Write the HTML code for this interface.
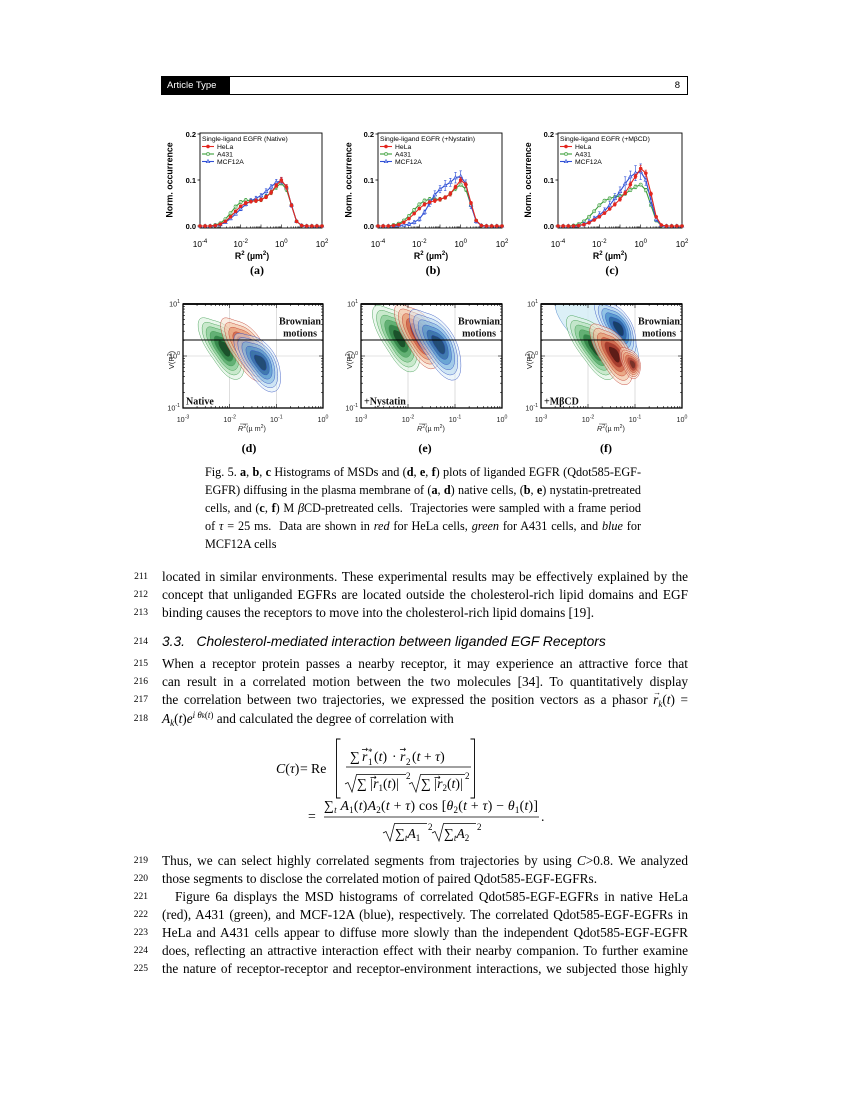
<!DOCTYPE html>
<html><head><meta charset="utf-8">
<style>
html,body{margin:0;padding:0;background:#fff;}
body{width:850px;height:1100px;position:relative;overflow:hidden;font-family:"Liberation Serif","DejaVu Serif",serif;color:#000;}
.ln{position:absolute;left:118px;width:30px;text-align:right;font-size:9.5px;line-height:18px;font-family:"Liberation Serif",serif;}
.tl{position:absolute;left:162px;width:526px;font-size:13.3px;line-height:18px;white-space:nowrap;text-align:justify;text-align-last:justify;}
.tl.last{text-align-last:left;}
.cap{position:absolute;left:205px;width:436px;font-size:12.2px;line-height:18px;white-space:nowrap;text-align:justify;text-align-last:justify;}
.cap.last{text-align-last:left;}
.sb{font-size:9px;position:relative;top:3px;}
.sp{font-size:9px;position:relative;top:-5px;}
.vec{position:relative;}
.vec:after{content:"\2192";position:absolute;left:0px;top:-8px;font-size:8px;font-style:normal;}
.hd{position:absolute;left:162px;top:633px;font-family:"Liberation Sans",sans-serif;font-style:italic;font-size:13.8px;line-height:18px;white-space:nowrap;}
</style></head>
<body>

<!-- header -->
<div style="position:absolute;left:161px;top:76px;width:525px;height:17px;border:1px solid #000;"></div>
<div style="position:absolute;left:161px;top:76px;width:69px;height:19px;background:#000;color:#fff;font-family:'Liberation Sans',sans-serif;font-size:9.5px;line-height:19px;padding-left:6px;box-sizing:border-box;">Article Type</div>
<div style="position:absolute;left:656px;top:76px;width:24px;text-align:right;font-family:'Liberation Sans',sans-serif;font-size:9.5px;line-height:19px;">8</div>

<svg id="fig" width="850" height="1100" style="position:absolute;left:0;top:0;" xmlns="http://www.w3.org/2000/svg">
<defs id="defs"></defs>
<g id="shapes"></g>

<!-- Histogram panel texts -->
<g font-family="'Liberation Sans',sans-serif" fill="#000">
 <!-- (a) -->
 <text x="196" y="136.8" font-size="7.5" font-weight="bold" text-anchor="end">0.2</text>
 <text x="196" y="182.8" font-size="7.5" font-weight="bold" text-anchor="end">0.1</text>
 <text x="196" y="228.8" font-size="7.5" font-weight="bold" text-anchor="end">0.0</text>
 <text x="200" y="247" font-size="8.3" text-anchor="middle">10<tspan dy="-4" font-size="6">-4</tspan></text>
 <text x="240.7" y="247" font-size="8.3" text-anchor="middle">10<tspan dy="-4" font-size="6">-2</tspan></text>
 <text x="281.3" y="247" font-size="8.3" text-anchor="middle">10<tspan dy="-4" font-size="6">0</tspan></text>
 <text x="322" y="247" font-size="8.3" text-anchor="middle">10<tspan dy="-4" font-size="6">2</tspan></text>
 <text x="252" y="259" font-size="8.8" font-weight="bold" text-anchor="middle">R<tspan dy="-4" font-size="6">2</tspan><tspan dy="4"> (µm</tspan><tspan dy="-4" font-size="6">2</tspan><tspan dy="4">)</tspan></text>
 <text transform="translate(172.5,180) rotate(-90)" font-size="8.8" font-weight="bold" text-anchor="middle">Norm. occurrence</text>
 <text x="202" y="141" font-size="6.8">Single-ligand EGFR (Native)</text>
 <text x="217" y="149" font-size="6.8">HeLa</text>
 <text x="217" y="156.5" font-size="6.8">A431</text>
 <text x="217" y="164" font-size="6.8">MCF12A</text>
 <!-- (b) -->
 <text x="374" y="136.8" font-size="7.5" font-weight="bold" text-anchor="end">0.2</text>
 <text x="374" y="182.8" font-size="7.5" font-weight="bold" text-anchor="end">0.1</text>
 <text x="374" y="228.8" font-size="7.5" font-weight="bold" text-anchor="end">0.0</text>
 <text x="378" y="247" font-size="8.3" text-anchor="middle">10<tspan dy="-4" font-size="6">-4</tspan></text>
 <text x="419.3" y="247" font-size="8.3" text-anchor="middle">10<tspan dy="-4" font-size="6">-2</tspan></text>
 <text x="460.7" y="247" font-size="8.3" text-anchor="middle">10<tspan dy="-4" font-size="6">0</tspan></text>
 <text x="502" y="247" font-size="8.3" text-anchor="middle">10<tspan dy="-4" font-size="6">2</tspan></text>
 <text x="431" y="259" font-size="8.8" font-weight="bold" text-anchor="middle">R<tspan dy="-4" font-size="6">2</tspan><tspan dy="4"> (µm</tspan><tspan dy="-4" font-size="6">2</tspan><tspan dy="4">)</tspan></text>
 <text transform="translate(351.5,180) rotate(-90)" font-size="8.8" font-weight="bold" text-anchor="middle">Norm. occurrence</text>
 <text x="380" y="141" font-size="6.8">Single-ligand EGFR (+Nystatin)</text>
 <text x="395" y="149" font-size="6.8">HeLa</text>
 <text x="395" y="156.5" font-size="6.8">A431</text>
 <text x="395" y="164" font-size="6.8">MCF12A</text>
 <!-- (c) -->
 <text x="554" y="136.8" font-size="7.5" font-weight="bold" text-anchor="end">0.2</text>
 <text x="554" y="182.8" font-size="7.5" font-weight="bold" text-anchor="end">0.1</text>
 <text x="554" y="228.8" font-size="7.5" font-weight="bold" text-anchor="end">0.0</text>
 <text x="558" y="247" font-size="8.3" text-anchor="middle">10<tspan dy="-4" font-size="6">-4</tspan></text>
 <text x="599.3" y="247" font-size="8.3" text-anchor="middle">10<tspan dy="-4" font-size="6">-2</tspan></text>
 <text x="640.7" y="247" font-size="8.3" text-anchor="middle">10<tspan dy="-4" font-size="6">0</tspan></text>
 <text x="682" y="247" font-size="8.3" text-anchor="middle">10<tspan dy="-4" font-size="6">2</tspan></text>
 <text x="610" y="259" font-size="8.8" font-weight="bold" text-anchor="middle">R<tspan dy="-4" font-size="6">2</tspan><tspan dy="4"> (µm</tspan><tspan dy="-4" font-size="6">2</tspan><tspan dy="4">)</tspan></text>
 <text transform="translate(531,180) rotate(-90)" font-size="8.8" font-weight="bold" text-anchor="middle">Norm. occurrence</text>
 <text x="560" y="141" font-size="6.8">Single-ligand EGFR (+MβCD)</text>
 <text x="575" y="149" font-size="6.8">HeLa</text>
 <text x="575" y="156.5" font-size="6.8">A431</text>
 <text x="575" y="164" font-size="6.8">MCF12A</text>
</g>
<g font-family="'Liberation Serif',serif" font-weight="bold" font-size="12" text-anchor="middle">
 <text x="257" y="274">(a)</text>
 <text x="433" y="274">(b)</text>
 <text x="612" y="274">(c)</text>
 <text x="249" y="452">(d)</text>
 <text x="425" y="452">(e)</text>
 <text x="606" y="452">(f)</text>
</g>

<!-- Density panel texts -->
<g font-family="'Liberation Sans',sans-serif" fill="#222" font-size="7.2">
 <!-- (d) -->
 <text x="180" y="306.5" text-anchor="end">10<tspan dy="-3.5" font-size="5.2">1</tspan></text>
 <text x="180" y="358.5" text-anchor="end">10<tspan dy="-3.5" font-size="5.2">0</tspan></text>
 <text x="180" y="410.5" text-anchor="end">10<tspan dy="-3.5" font-size="5.2">-1</tspan></text>
 <text x="183" y="422" text-anchor="middle">10<tspan dy="-3.5" font-size="5.2">-3</tspan></text>
 <text x="229.7" y="422" text-anchor="middle">10<tspan dy="-3.5" font-size="5.2">-2</tspan></text>
 <text x="276.3" y="422" text-anchor="middle">10<tspan dy="-3.5" font-size="5.2">-1</tspan></text>
 <text x="323" y="422" text-anchor="middle">10<tspan dy="-3.5" font-size="5.2">0</tspan></text>
 <text x="252" y="431" text-anchor="middle"><tspan font-style="italic">R</tspan><tspan dy="-3" font-size="5.2">2</tspan><tspan dy="3">(µ m</tspan><tspan dy="-3" font-size="5.2">2</tspan><tspan dy="3">)</tspan></text>
 <text transform="translate(174,360) rotate(-90)" text-anchor="middle" font-size="7.5">V(R<tspan dy="-3" font-size="5.2">2</tspan><tspan dy="3">)</tspan></text>
 <!-- (e) -->
 <text x="358" y="306.5" text-anchor="end">10<tspan dy="-3.5" font-size="5.2">1</tspan></text>
 <text x="358" y="358.5" text-anchor="end">10<tspan dy="-3.5" font-size="5.2">0</tspan></text>
 <text x="358" y="410.5" text-anchor="end">10<tspan dy="-3.5" font-size="5.2">-1</tspan></text>
 <text x="361" y="422" text-anchor="middle">10<tspan dy="-3.5" font-size="5.2">-3</tspan></text>
 <text x="408" y="422" text-anchor="middle">10<tspan dy="-3.5" font-size="5.2">-2</tspan></text>
 <text x="455" y="422" text-anchor="middle">10<tspan dy="-3.5" font-size="5.2">-1</tspan></text>
 <text x="502" y="422" text-anchor="middle">10<tspan dy="-3.5" font-size="5.2">0</tspan></text>
 <text x="431" y="431" text-anchor="middle"><tspan font-style="italic">R</tspan><tspan dy="-3" font-size="5.2">2</tspan><tspan dy="3">(µ m</tspan><tspan dy="-3" font-size="5.2">2</tspan><tspan dy="3">)</tspan></text>
 <text transform="translate(352,360) rotate(-90)" text-anchor="middle" font-size="7.5">V(R<tspan dy="-3" font-size="5.2">2</tspan><tspan dy="3">)</tspan></text>
 <!-- (f) -->
 <text x="538" y="306.5" text-anchor="end">10<tspan dy="-3.5" font-size="5.2">1</tspan></text>
 <text x="538" y="358.5" text-anchor="end">10<tspan dy="-3.5" font-size="5.2">0</tspan></text>
 <text x="538" y="410.5" text-anchor="end">10<tspan dy="-3.5" font-size="5.2">-1</tspan></text>
 <text x="541" y="422" text-anchor="middle">10<tspan dy="-3.5" font-size="5.2">-3</tspan></text>
 <text x="588" y="422" text-anchor="middle">10<tspan dy="-3.5" font-size="5.2">-2</tspan></text>
 <text x="635" y="422" text-anchor="middle">10<tspan dy="-3.5" font-size="5.2">-1</tspan></text>
 <text x="682" y="422" text-anchor="middle">10<tspan dy="-3.5" font-size="5.2">0</tspan></text>
 <text x="611" y="431" text-anchor="middle"><tspan font-style="italic">R</tspan><tspan dy="-3" font-size="5.2">2</tspan><tspan dy="3">(µ m</tspan><tspan dy="-3" font-size="5.2">2</tspan><tspan dy="3">)</tspan></text>
 <text transform="translate(532,360) rotate(-90)" text-anchor="middle" font-size="7.5">V(R<tspan dy="-3" font-size="5.2">2</tspan><tspan dy="3">)</tspan></text>
</g>
<g stroke="#222" stroke-width="0.5">
 <line x1="240" y1="424" x2="248" y2="424"/>
 <line x1="419" y1="424" x2="427" y2="424"/>
 <line x1="599" y1="424" x2="607" y2="424"/>
</g>
<g font-family="'Liberation Serif',serif" font-weight="bold" font-size="10" fill="#111">
 <text x="321" y="324.5" text-anchor="end">Brownian</text>
 <text x="317" y="336.5" text-anchor="end">motions</text>
 <text x="186" y="404.5">Native</text>
 <text x="500" y="324.5" text-anchor="end">Brownian</text>
 <text x="496" y="336.5" text-anchor="end">motions</text>
 <text x="364" y="404.5">+Nystatin</text>
 <text x="680" y="324.5" text-anchor="end">Brownian</text>
 <text x="676" y="336.5" text-anchor="end">motions</text>
 <text x="544" y="404.5">+MβCD</text>
</g>

<!-- Equation -->
<g font-family="'Liberation Serif','DejaVu Serif',serif" font-size="13.8" fill="#000">
 <text x="276" y="773"><tspan font-style="italic">C</tspan>(<tspan font-style="italic">τ</tspan>)</text>
 <text x="300" y="773">=</text>
 <text x="311" y="773">Re</text>
 <path d="M340.5,739 H336.5 V798 H340.5 M470.5,739 H474.5 V798 H470.5" fill="none" stroke="#000" stroke-width="0.9"/>
 <text x="350" y="761">∑</text>
 <text x="362" y="761" font-style="italic">r</text>
 <text x="368" y="755" font-size="9">*</text>
 <text x="368" y="765" font-size="9">1</text>
 <text x="374" y="761">(<tspan font-style="italic">t</tspan>)</text>
 <text x="392" y="761">·</text>
 <text x="400" y="761" font-style="italic">r</text>
 <text x="406" y="765" font-size="9">2</text>
 <text x="412" y="761">(<tspan font-style="italic">t</tspan> + <tspan font-style="italic">τ</tspan>)</text>
 <line x1="346" y1="767" x2="471" y2="767" stroke="#000" stroke-width="0.7"/>
 <path d="M345,784 L348,782.5 L352,792 L356.5,774.5 H406 M409,784 L412,782.5 L416,792 L420.5,774.5 H465" fill="none" stroke="#000" stroke-width="0.7"/>
 <text x="357" y="788">∑ |<tspan font-style="italic">r</tspan><tspan font-size="9" dy="3">1</tspan><tspan dy="-3">(</tspan><tspan font-style="italic">t</tspan>)|</text>
 <text x="406" y="779" font-size="9">2</text>
 <text x="421" y="788">∑ |<tspan font-style="italic">r</tspan><tspan font-size="9" dy="3">2</tspan><tspan dy="-3">(</tspan><tspan font-style="italic">t</tspan>)|</text>
 <text x="465" y="779" font-size="9">2</text>
 <g font-size="8" font-family="'DejaVu Sans',sans-serif">
  <text x="361.5" y="752">→</text><text x="399.5" y="752">→</text>
  <text x="370" y="780">→</text><text x="434" y="780">→</text>
 </g>
 <text x="308" y="820.5">=</text>
 <text x="324" y="810" textLength="214" lengthAdjust="spacing">∑<tspan font-size="9" font-style="italic" dy="3">t</tspan><tspan dy="-3"> </tspan><tspan font-style="italic">A</tspan><tspan font-size="9" dy="3">1</tspan><tspan dy="-3">(</tspan><tspan font-style="italic">t</tspan>)<tspan font-style="italic">A</tspan><tspan font-size="9" dy="3">2</tspan><tspan dy="-3">(</tspan><tspan font-style="italic">t</tspan> + <tspan font-style="italic">τ</tspan>) cos [<tspan font-style="italic">θ</tspan><tspan font-size="9" dy="3">2</tspan><tspan dy="-3">(</tspan><tspan font-style="italic">t</tspan> + <tspan font-style="italic">τ</tspan>) − <tspan font-style="italic">θ</tspan><tspan font-size="9" dy="3">1</tspan><tspan dy="-3">(</tspan><tspan font-style="italic">t</tspan>)]</text>
 <line x1="324" y1="817" x2="539" y2="817" stroke="#000" stroke-width="0.7"/>
 <text x="541" y="821">.</text>
 <path d="M383,833 L386,831.5 L390,841 L394.5,823.5 H427 M432,833 L435,831.5 L439,841 L443.5,823.5 H476" fill="none" stroke="#000" stroke-width="0.7"/>
 <text x="395" y="838">∑<tspan font-size="9" font-style="italic" dy="3">t</tspan><tspan dy="-3" font-style="italic">A</tspan><tspan font-size="9" dy="3">1</tspan></text>
 <text x="428" y="830" font-size="9">2</text>
 <text x="444" y="838">∑<tspan font-size="9" font-style="italic" dy="3">t</tspan><tspan dy="-3" font-style="italic">A</tspan><tspan font-size="9" dy="3">2</tspan></text>
 <text x="477" y="830" font-size="9">2</text>
</g>
</svg>

<!-- Caption -->
<div class="cap" style="top:463px;">Fig. 5. <b>a</b>, <b>b</b>, <b>c</b> Histograms of MSDs and (<b>d</b>, <b>e</b>, <b>f</b>) plots of liganded EGFR (Qdot585-EGF-</div>
<div class="cap" style="top:481px;">EGFR) diffusing in the plasma membrane of (<b>a</b>, <b>d</b>) native cells, (<b>b</b>, <b>e</b>) nystatin-pretreated</div>
<div class="cap" style="top:499px;">cells, and (<b>c</b>, <b>f</b>) M <i>β</i>CD-pretreated cells. &nbsp;Trajectories were sampled with a frame period</div>
<div class="cap" style="top:517px;">of <i>τ</i> = 25 ms. &nbsp;Data are shown in <i>red</i> for HeLa cells, <i>green</i> for A431 cells, and <i>blue</i> for</div>
<div class="cap last" style="top:535px;">MCF12A cells</div>

<!-- Body text -->
<div class="ln" style="top:568px;">211</div>
<div class="tl" style="top:568px;">located in similar environments. These experimental results may be effectively explained by the</div>
<div class="ln" style="top:586.2px;">212</div>
<div class="tl" style="top:586.2px;">concept that unliganded EGFRs are located outside the cholesterol-rich lipid domains and EGF</div>
<div class="ln" style="top:604.4px;">213</div>
<div class="tl last" style="top:604.4px;">binding causes the receptors to move into the cholesterol-rich lipid domains [19].</div>

<div class="ln" style="top:633px;">214</div>
<div class="hd">3.3.&nbsp;&nbsp;&nbsp;Cholesterol-mediated interaction between liganded EGF Receptors</div>

<div class="ln" style="top:655px;">215</div>
<div class="tl" style="top:655px;">When a receptor protein passes a nearby receptor, it may experience an attractive force that</div>
<div class="ln" style="top:673.2px;">216</div>
<div class="tl" style="top:673.2px;">can result in a correlated motion between the two molecules [34]. To quantitatively display</div>
<div class="ln" style="top:691.4px;">217</div>
<div class="tl" style="top:691.4px;">the correlation between two trajectories, we expressed the position vectors as a phasor <span class="vec"><i>r</i></span><span class="sb"><i>k</i></span>(<i>t</i>) =</div>
<div class="ln" style="top:709.6px;">218</div>
<div class="tl last" style="top:709.6px;"><i>A</i><span class="sb"><i>k</i></span>(<i>t</i>)<i>e</i><span class="sp"><i>i θ</i><span style="font-size:7px"><i>k</i></span>(<i>t</i>)</span> and calculated the degree of correlation with</div>

<div class="ln" style="top:851.5px;">219</div>
<div class="tl" style="top:851.5px;">Thus, we can select highly correlated segments from trajectories by using <i>C</i>&gt;0.8. We analyzed</div>
<div class="ln" style="top:869.5px;">220</div>
<div class="tl last" style="top:869.5px;">those segments to disclose the correlated motion of paired Qdot585-EGF-EGFRs.</div>
<div class="ln" style="top:887.5px;">221</div>
<div class="tl" style="top:887.5px;left:175px;width:513px;">Figure 6a displays the MSD histograms of correlated Qdot585-EGF-EGFRs in native HeLa</div>
<div class="ln" style="top:905.5px;">222</div>
<div class="tl" style="top:905.5px;">(red), A431 (green), and MCF-12A (blue), respectively. The correlated Qdot585-EGF-EGFRs in</div>
<div class="ln" style="top:923.5px;">223</div>
<div class="tl" style="top:923.5px;">HeLa and A431 cells appear to diffuse more slowly than the independent Qdot585-EGF-EGFR</div>
<div class="ln" style="top:941.5px;">224</div>
<div class="tl" style="top:941.5px;">does, reflecting an attractive interaction effect with their nearby companion. To further examine</div>
<div class="ln" style="top:959.5px;">225</div>
<div class="tl" style="top:959.5px;">the nature of receptor-receptor and receptor-environment interactions, we subjected those highly</div>

<script>
(function(){
var NS='http://www.w3.org/2000/svg';
var G=document.getElementById('shapes'), D=document.getElementById('defs');
function el(t,a,p){var e=document.createElementNS(NS,t);for(var k in a)e.setAttribute(k,a[k]);(p||G).appendChild(e);return e;}
var RED='#e3261f',GRN='#3a9e3a',BLU='#2e4fd6';

function mark(g,s,x,y){
 if(s.m=='f') el('circle',{cx:x,cy:y,r:1.6,fill:s.c,stroke:s.c,'stroke-width':0.5},g);
 else if(s.m=='o') el('circle',{cx:x,cy:y,r:1.6,fill:'#ffffff','fill-opacity':0.6,stroke:s.c,'stroke-width':0.6},g);
 else el('polygon',{points:x+','+(y-2)+' '+(x-1.8)+','+(y+1.2)+' '+(x+1.8)+','+(y+1.2),fill:'#ffffff','fill-opacity':0.5,stroke:s.c,'stroke-width':0.6},g);
}

var H=[
 {x0:200,x1:322,s:[
  {c:GRN,m:'o',e:0.8,ph:1,v:[0,0,0,0.002,0.006,0.015,0.028,0.042,0.052,0.056,0.055,0.055,0.057,0.064,0.073,0.085,0.093,0.08,0.045,0.01,0.001,0,0,0,0]},
  {c:BLU,m:'t',e:0.9,ph:2,v:[0,0,0,0.001,0.003,0.008,0.016,0.026,0.037,0.047,0.055,0.06,0.066,0.075,0.085,0.095,0.098,0.085,0.045,0.01,0.001,0,0,0,0]},
  {c:RED,m:'f',e:0.8,ph:0,v:[0,0,0,0.001,0.004,0.01,0.02,0.032,0.043,0.05,0.053,0.055,0.057,0.063,0.073,0.088,0.1,0.085,0.045,0.01,0.001,0,0,0,0]}
 ]},
 {x0:378,x1:502,s:[
  {c:GRN,m:'o',e:0.8,ph:1,v:[0,0,0,0.002,0.005,0.012,0.022,0.035,0.047,0.055,0.058,0.058,0.058,0.062,0.07,0.082,0.09,0.08,0.045,0.012,0.001,0,0,0,0]},
  {c:BLU,m:'t',e:1.5,ph:2,v:[0,0,0,0,0.001,0.002,0.004,0.008,0.015,0.03,0.05,0.068,0.08,0.088,0.095,0.105,0.108,0.092,0.045,0.01,0.001,0,0,0,0]},
  {c:RED,m:'f',e:0.8,ph:0,v:[0,0,0,0.001,0.003,0.008,0.016,0.027,0.038,0.047,0.052,0.055,0.058,0.062,0.07,0.085,0.1,0.09,0.05,0.012,0.001,0,0,0,0]}
 ]},
 {x0:558,x1:682,s:[
  {c:GRN,m:'o',e:0.6,ph:1,v:[0,0,0,0.001,0.004,0.01,0.02,0.032,0.045,0.055,0.06,0.063,0.065,0.07,0.078,0.085,0.09,0.078,0.045,0.012,0.001,0,0,0,0]},
  {c:BLU,m:'t',e:2.0,ph:2,v:[0,0,0,0,0.001,0.004,0.009,0.016,0.024,0.033,0.045,0.06,0.075,0.092,0.107,0.115,0.118,0.1,0.055,0.015,0.001,0,0,0,0]},
  {c:RED,m:'f',e:0.8,ph:0,v:[0,0,0,0,0.001,0.003,0.007,0.013,0.02,0.028,0.037,0.047,0.058,0.072,0.09,0.108,0.125,0.115,0.07,0.02,0.002,0,0,0,0]}
 ]}
];

H.forEach(function(p){
 var g=el('g',{});
 var X=function(l){return p.x0+(l+4)/6*(p.x1-p.x0);}, Y=function(v){return 226-v*460;};
 el('rect',{x:p.x0,y:133,width:p.x1-p.x0,height:95,fill:'none',stroke:'#000','stroke-width':0.9},g);
 for(var d=-4;d<=2;d++){for(var m=1;m<10;m++){var l=d+Math.log10(m); if(l>2.001)break; var x=X(l); var L=(m==1)?3.5:1.6; el('line',{x1:x,x2:x,y1:228,y2:228-L,stroke:'#000','stroke-width':0.6},g);}}
 [0,0.1,0.2].forEach(function(v){el('line',{x1:p.x0-2.5,x2:p.x0,y1:Y(v),y2:Y(v),stroke:'#000','stroke-width':0.8},g);});
 p.s.forEach(function(s){
  var pts=s.v.map(function(v,i){return [X(-4+i*0.25),Y(v)];});
  s.v.forEach(function(v,i){
   if(v<0.004)return;
   var e=(0.002+0.06*v*(0.5+0.5*Math.abs(Math.sin(i*1.9+s.ph))))*s.e*460;
   var x=pts[i][0],y=pts[i][1];
   el('line',{x1:x,x2:x,y1:y-e,y2:y+e,stroke:s.c,'stroke-width':0.6},g);
   el('line',{x1:x-1.2,x2:x+1.2,y1:y-e,y2:y-e,stroke:s.c,'stroke-width':0.6},g);
   el('line',{x1:x-1.2,x2:x+1.2,y1:y+e,y2:y+e,stroke:s.c,'stroke-width':0.6},g);
  });
  el('polyline',{points:pts.map(function(q){return q[0].toFixed(1)+','+q[1].toFixed(1);}).join(' '),fill:'none',stroke:s.c,'stroke-width':1.1},g);
  pts.forEach(function(q){mark(g,s,q[0],q[1]);});
 });
 var leg=[[p.s[2],146.5],[p.s[0],154],[p.s[1],161.5]];
 leg.forEach(function(it){
  var s=it[0],y=it[1];
  el('line',{x1:p.x0+2,x2:p.x0+14,y1:y,y2:y,stroke:s.c,'stroke-width':1.1},g);
  mark(g,s,p.x0+8,y);
 });
});

// density panels
var GC=['#dcf1df','#b2dfb8','#7cc48a','#3f9a55','#1a6a32','#083015'];
var RC=['#f9e2d0','#f2c09e','#e48e64','#c24c34','#851c18','#300808'];
var BC=['#dcedf8','#afd4ee','#72b0dc','#3581bf','#164f8c','#06223f'];
var COL={g:[GC,'#3a9a4a'],r:[RC,'#c0392b'],b:[BC,'#3050c0']};
function shape(cx,cy,a,b,ang,wob){
 var pts=[],n=48,r=ang*Math.PI/180,ca=Math.cos(r),sa=Math.sin(r);
 for(var i=0;i<n;i++){
  var t=i/n*2*Math.PI;
  var f=1+wob*(0.10*Math.sin(3*t+0.7)+0.06*Math.cos(2*t+1.3));
  var ex=a*Math.cos(t)*f, ey=b*Math.sin(t)*f*(1+0.18*Math.cos(t));
  pts.push((cx+ex*ca-ey*sa).toFixed(1)+','+(cy+ex*sa+ey*ca).toFixed(1));
 }
 return 'M'+pts.join('L')+'Z';
}
function blob(g,cx,cy,a,b,ang,key,op){
 var cols=COL[key][0],sc=COL[key][1],n=cols.length;
 for(var k=0;k<n;k++){
  var s=1-k/n*0.88;
  el('path',{d:shape(cx+k*0.5,cy+k*0.4,a*s,b*s,ang,1),fill:cols[k],'fill-opacity':op||0.6,stroke:sc,'stroke-width':0.5,'stroke-opacity':0.85},g);
 }
}
var dens=[{x0:183,x1:323},{x0:361,x1:502},{x0:541,x1:682}];
var blobs=[
 [[222,346,34,16,60,'g'],[245,347,35,16,60,'r'],[258,360,33,16,58,'b',0.5]],
 [[397,336,36,17,62,'g'],[418,334,35,16,62,'r'],[436,342,39,17,60,'b',0.5]],
 [[592,345,36,16,58,'g'],[616,326,31,14,60,'b'],[612,352,33,15,62,'r'],[630,362,16,9,70,'r',0.45]]
];
dens.forEach(function(p,i){
 var X=function(l){return p.x0+(l+3)/3*(p.x1-p.x0);}, Y=function(l){return 304+(1-l)/2*104;};
 var g=el('g',{});
 var cp=el('clipPath',{id:'cl'+i},D); el('rect',{x:p.x0,y:304,width:p.x1-p.x0,height:104},cp);
 [-2,-1].forEach(function(l){el('line',{x1:X(l),x2:X(l),y1:304,y2:408,stroke:'#c8c8c8','stroke-width':0.6},g);});
 el('line',{x1:p.x0,x2:p.x1,y1:356,y2:356,stroke:'#c8c8c8','stroke-width':0.6},g);
 var bg=el('g',{'clip-path':'url(#cl'+i+')'},g);
 if(i==2){el('path',{d:shape(598,330,50,24,45,1),fill:'#d3ecf5','fill-opacity':0.8,stroke:'#5a8fd0','stroke-width':0.5},bg);}
 blobs[i].forEach(function(b){blob(bg,b[0],b[1],b[2],b[3],b[4],b[5],b[6]);});
 el('line',{x1:p.x0,x2:p.x1,y1:340,y2:340,stroke:'#000','stroke-width':1.1},g);
 el('rect',{x:p.x0,y:304,width:p.x1-p.x0,height:104,fill:'none',stroke:'#000','stroke-width':1.3},g);
 el('line',{x1:p.x0,x2:p.x1,y1:304,y2:304,stroke:'#000','stroke-width':1.8},g);
 for(var d=-3;d<=0;d++){for(var m=1;m<10;m++){var l=d+Math.log10(m); if(l>0.001)break; var x=X(l); var L=(m==1)?4:2;
  el('line',{x1:x,x2:x,y1:408,y2:408-L,stroke:'#000','stroke-width':0.6},g);
  el('line',{x1:x,x2:x,y1:304,y2:304+L,stroke:'#000','stroke-width':0.6},g);}}
 for(var d2=-1;d2<=1;d2++){for(var m2=1;m2<10;m2++){var l2=d2+Math.log10(m2); if(l2>1.001)break; var y=Y(l2); var L2=(m2==1)?4:2;
  el('line',{x1:p.x0,x2:p.x0+L2,y1:y,y2:y,stroke:'#000','stroke-width':0.6},g);
  el('line',{x1:p.x1-L2,x2:p.x1,y1:y,y2:y,stroke:'#000','stroke-width':0.6},g);}}
});
})();
</script>
</body></html>
